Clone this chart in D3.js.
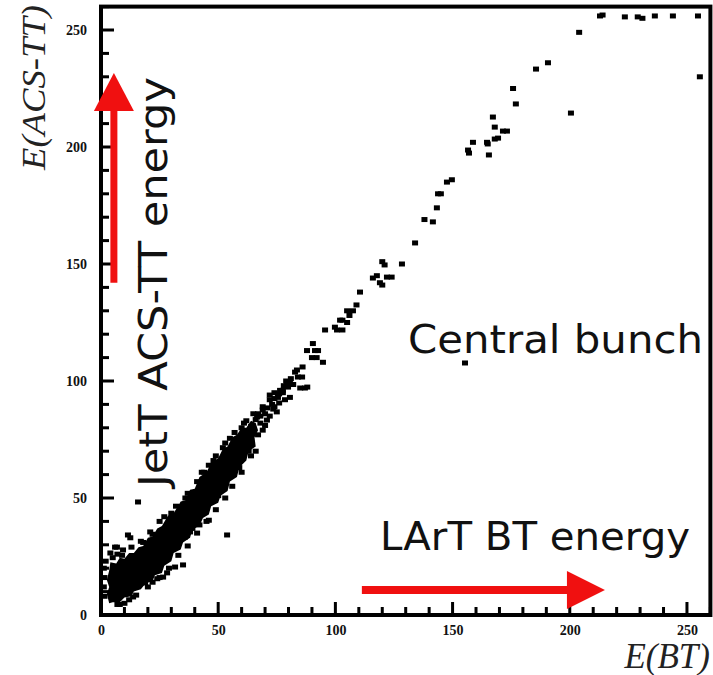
<!DOCTYPE html>
<html><head><meta charset="utf-8">
<script src="https://cdn.jsdelivr.net/npm/d3@7"></script>
<style>body{margin:0;background:#fff} svg{display:block}</style>
</head><body>
<svg id="chart" width="713" height="675"></svg>
<script>
// Axis ticks
const xTicks = [0, 50, 100, 150, 200, 250];
const yTicks = [0, 50, 100, 150, 200, 250];
const tickLabels = ["0", "50", "100", "150", "200", "250"];
const minorTicks = [10,20,30,40,60,70,80,90,110,120,130,140,160,170,180,190,210,220,230,240,260];

// Saturated core of the correlation band, outline as [E(BT), E(ACS-TT)]
const coreOutline = [
  [3.5,5],[2.5,9],[3.5,12],[2.5,15],[3.5,19],[4,22.5],[6.5,22],[8,24.5],[10,24],[12,26.5],[14,26.5],
  [16,29],[18,29.5],[20,33],[22,33.5],[24,37],[26,38],[28.6,42.5],[31,43.5],[34,48.5],[36,49],
  [38,53.5],[40,54],[42,59],[45,61],[47,65],[50,67],[52,71],[54,72],[56,76],[58,77],[60,80],
  [62,80],[64,83],
  [66,82],[67,79],[65.5,76],[66,72],[63,70],[62,66],[59,63],[58,59],[55,57],[54,53],[51,51],
  [50,48],[47,46.5],[46,43],[43.5,41.5],[42,38],[39,36.5],[38,33],[35,31],[34,28],[31,26.5],
  [30,23],[27,21],[26,18],[23,17],[22,14.5],[19,13.5],[17,11],[14,10],[13,8],[10,7.5],[8,5.5],[5,5.5]
];

// Events around the saturated core (low energy)
const lowBandPoints = [
  [1.5,8],[1.2,12],[1.5,16],[1.2,20],[2,23],[6,29],[6.8,29],[9.4,27.8],[11.5,34.2],[12.5,33],
  [4,26.5],[15.8,48.3],[39,37],[35.8,33.3],[31.6,20.5],[35,21.4],[28.2,18],[26.5,16.2],[13.7,7.7],
  [18.8,13.7],[22,14],[10,5],[8,4.5],[24,15.5],[53.8,34.2],[46,40.5],[42,38.5],[30,43.5],[22,34.5],
  [18,31],[36,50],[44,61],[48,66],[52,71.5],[55,75.5],[60,80],[63,70],[59,63],[50,51],[38,35.5],
  [5,24.5],[7,26],[9,25.5],[13,29],[17,31.5],[21,35.5],[25,40],[27,42],[32,46.5],[37,52],
  [41,57],[43,61],[46,64],[49,68],[53,73.5],[57,78],[61,82],
  [7,4.5],[12,6.5],[15,8.5],[20,12],[25,16],[29,20],[33,25.5],[37,29.5],[41,35],[45,40],
  [49,45],[53,50],[56,55],[60,61],[64,68],[66,70]
];

// Events in the medium energy range
const midBandPoints = [
  [62,83],[65,86],[69,89],[72,92],[74,95],[77.6,96],[80.6,99],[68,82],[69,79],[76,90.6],
  [66.6,84.6],[69,87.6],[75,86.8],[70.8,83.3],[76.4,96],[77.6,95],[79.8,97.4],[78.5,92],[80.6,93],
  [85,97],[83.6,104.7],[86,106],[85.8,101.7],[88,97.4],[87,97],[82.8,103.8],[84,101.7],[79.4,99],
  [72,94],[90.4,116],[91.3,113],[92,110],[94.7,108],[90,110],[87.9,113],[92.6,113],[95.6,121.8],
  [99.8,123],[102,126],[105,130],[103,121.8],[100.7,121.8],[103,126],[106,128],[105,125],
  [107.5,130],[109,132.5],
  [63,78],[64,80.5],[66,83.5],[67,86],[68,85],[70,86],[71,88.5],[73,90],[73.5,88],[74,92.5],
  [75.5,93],[76,94.5],[78,98],[79,100],[81,101],[82,98.5],[67,77],[70,81],[72,85],[74,89]
];

// Events in the high energy range
const highBandPoints = [
  [110.5,138],[116,144],[117.7,145],[119,142],[120,141],[122,144.4],[124,144.4],[120,151],
  [121,149.6],[128.4,150],[134,159],[138,169],[141.6,168],[143.3,174],[143.8,180],[145,180],
  [147.6,185],[149.7,186],[156.6,198.7],[157,197.4],[158.7,202],[164.7,202],[165,201.3],
  [165.5,196.6],[168,203.4],[169.4,203.8],[171.5,206.8],[173.2,206.8],[168,208.5],[167.2,212.8],
  [177,218.4],[175.8,225],[185.6,233.3],[190.7,236],[204,249]
];

// Saturated ACS-TT readings
const overflowPoints = [
  [212.9,256],[214,256.4],[223.5,255.6],[229,255.6],[231,255],[236.3,256],[244,256],[254.7,256]
];

// Isolated events off the diagonal
const outlierPoints = [[155.3,107.7],[200.5,214.5],[255.5,230]];

// Annotation arrows, in axis units
const arrowUp = {x: 5.5, from: 142, to: 231.6};
const arrowRight = {y: 10.7, from: 111.3, to: 215};

const svg = d3.select("#chart");
const x = d3.scaleLinear().domain([0, 260]).range([101, 710.4]);
const y = d3.scaleLinear().domain([0, 260]).range([615, 6.6]);

// Dense core
svg.append("path")
  .datum(coreOutline)
  .attr("d", d3.line().x(d => x(d[0])).y(d => y(d[1])).curve(d3.curveLinearClosed))
  .attr("fill", "#000");

// Individual events
const allPoints = [...lowBandPoints, ...midBandPoints, ...highBandPoints, ...overflowPoints, ...outlierPoints];
svg.append("g").selectAll("rect").data(allPoints).join("rect")
  .attr("x", d => x(d[0]) - 3).attr("y", d => y(d[1]) - 2.5)
  .attr("width", 6).attr("height", 5).attr("fill", "#000");

// Frame
svg.append("rect")
  .attr("x", x(0)).attr("y", y(260))
  .attr("width", x(260) - x(0)).attr("height", y(0) - y(260))
  .attr("fill", "none").attr("stroke", "#000").attr("stroke-width", 4);

// Inward tick marks, drawn as thin filled bars
const tickSet = [...xTicks.map(v => ({v, len: 13})), ...minorTicks.map(v => ({v, len: 8}))];
svg.append("g").selectAll("rect").data(tickSet).join("rect")
  .attr("x", d => x(d.v) - 1.5).attr("y", d => y(0) - d.len)
  .attr("width", 3).attr("height", d => d.len).attr("fill", "#000");
svg.append("g").selectAll("rect").data(tickSet).join("rect")
  .attr("x", x(0)).attr("y", d => y(d.v) - 1.5)
  .attr("width", d => d.len).attr("height", 3).attr("fill", "#000");

// Tick labels
const gx = svg.append("g").attr("transform", `translate(0,${y(0)})`)
  .call(d3.axisBottom(x).tickValues(xTicks).tickSize(0).tickPadding(10)
    .tickFormat(d => tickLabels[xTicks.indexOf(d)]));
const gy = svg.append("g").attr("transform", `translate(${x(0)},0)`)
  .call(d3.axisLeft(y).tickValues(yTicks).tickSize(0).tickPadding(14)
    .tickFormat(d => tickLabels[yTicks.indexOf(d)]));
[gx, gy].forEach(g => {
  g.select(".domain").remove();
  g.selectAll(".tick line").remove();
  g.selectAll("text").attr("font-family", "Liberation Serif, serif").attr("font-weight", "bold")
    .attr("font-size", 14).attr("fill", "#111");
});

// Axis titles
svg.append("text")
  .attr("transform", "translate(45,170) rotate(-90)")
  .attr("font-family", "Liberation Serif, serif").attr("font-style", "italic")
  .attr("font-size", 34).attr("textLength", 165).attr("lengthAdjust", "spacingAndGlyphs")
  .attr("fill", "#222").text("E(ACS-TT)");
svg.append("text")
  .attr("x", 710).attr("y", 668).attr("text-anchor", "end")
  .attr("font-family", "Liberation Serif, serif").attr("font-style", "italic")
  .attr("font-size", 35).attr("fill", "#222").text("E(BT)");

// Red arrows
const red = "#f01010";
svg.append("line")
  .attr("x1", x(arrowUp.x)).attr("x2", x(arrowUp.x))
  .attr("y1", y(arrowUp.from)).attr("y2", y(arrowUp.to) + 30)
  .attr("stroke", red).attr("stroke-width", 7);
svg.append("path")
  .attr("d", `M${x(arrowUp.x)},${y(arrowUp.to)} L${x(arrowUp.x) + 20},${y(arrowUp.to) + 38} L${x(arrowUp.x) - 20},${y(arrowUp.to) + 38} Z`)
  .attr("fill", red);
svg.append("line")
  .attr("x1", x(arrowRight.from)).attr("x2", x(arrowRight.to) - 30)
  .attr("y1", y(arrowRight.y)).attr("y2", y(arrowRight.y))
  .attr("stroke", red).attr("stroke-width", 8);
svg.append("path")
  .attr("d", `M${x(arrowRight.to)},${y(arrowRight.y)} L${x(arrowRight.to) - 38},${y(arrowRight.y) - 19} L${x(arrowRight.to) - 38},${y(arrowRight.y) + 19} Z`)
  .attr("fill", red);

// Annotations
const annoFont = "DejaVu Sans, sans-serif";
svg.append("text")
  .attr("x", 380).attr("y", 550)
  .attr("font-family", annoFont).attr("font-size", 39)
  .attr("textLength", 310).attr("lengthAdjust", "spacingAndGlyphs")
  .attr("fill", "#111").text("LArT BT energy");
svg.append("text")
  .attr("x", 408).attr("y", 353)
  .attr("font-family", annoFont).attr("font-size", 39)
  .attr("textLength", 295).attr("lengthAdjust", "spacingAndGlyphs")
  .attr("fill", "#111").text("Central bunch");
svg.append("text")
  .attr("transform", "translate(167,487) rotate(-90)")
  .attr("font-family", annoFont).attr("font-size", 39)
  .attr("textLength", 410).attr("lengthAdjust", "spacingAndGlyphs")
  .attr("fill", "#111").text("JetT ACS-TT energy");
</script>
</body></html>
